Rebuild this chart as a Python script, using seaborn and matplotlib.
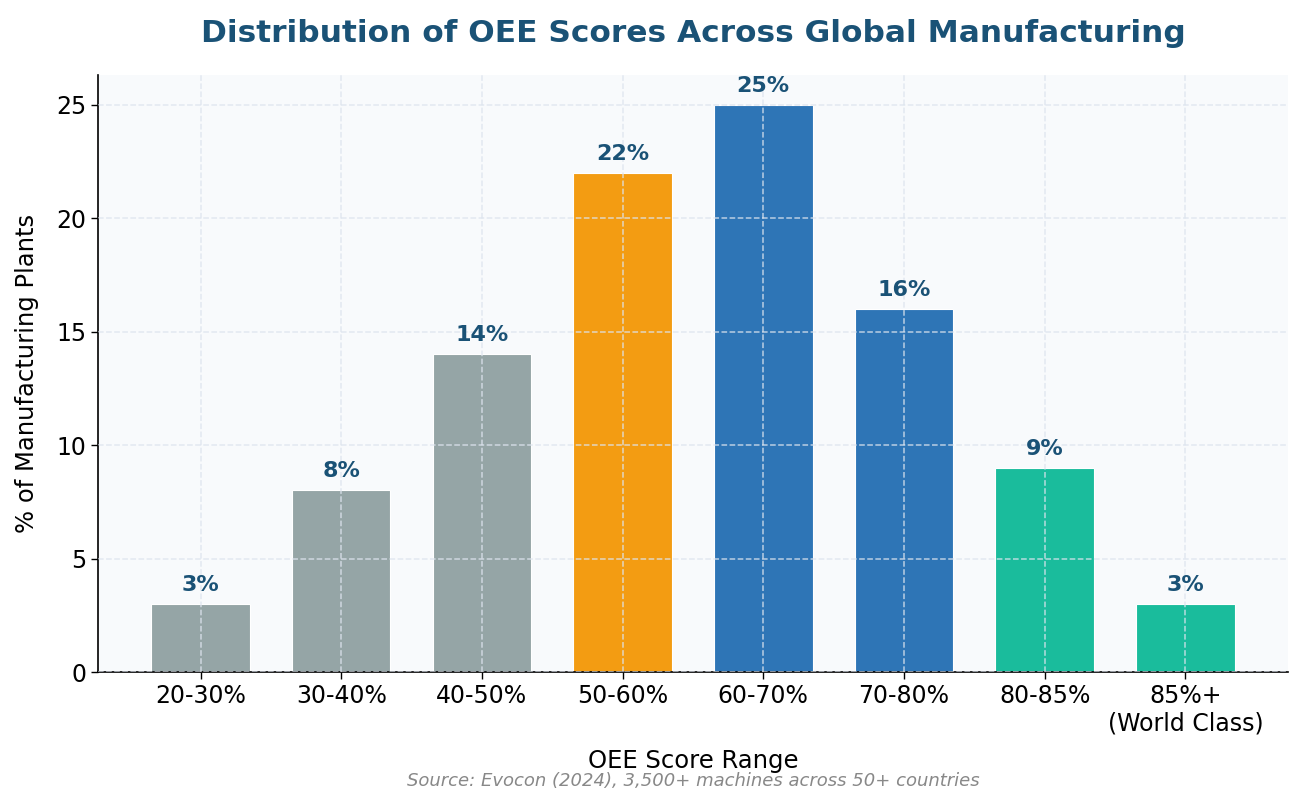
import matplotlib
matplotlib.use("Agg")
import matplotlib.pyplot as plt
import seaborn as sns
import pandas as pd

categories = ["20-30%", "30-40%", "40-50%", "50-60%", "60-70%", "70-80%", "80-85%", "85%+\n(World Class)"]
values = [3, 8, 14, 22, 25, 16, 9, 3]
bar_colors = ["#95a5a6", "#95a5a6", "#95a5a6", "#f39c12", "#2e75b6", "#2e75b6", "#1abc9c", "#1abc9c"]

df = pd.DataFrame({"range": categories, "pct": values})

sns.set_style("white")
plt.rcParams["font.family"] = ["DejaVu Sans"]

fig = plt.figure(figsize=(13.05, 8), dpi=100)
ax = fig.add_axes([0.075, 0.16, 0.912, 0.746])
ax.set_facecolor("#f8fafc")

sns.barplot(data=df, x="range", y="pct", hue="range", palette=bar_colors,
            saturation=1, width=0.7, edgecolor="white", linewidth=0.8,
            legend=False, ax=ax)

for i, v in enumerate(values):
    ax.text(i, v + 0.4, f"{v}%", ha="center", va="bottom", fontsize=16,
            fontweight="bold", color="#1a5276")

ax.set_xlim(-0.73, 7.73)
ax.set_ylim(0, 26.3)
ax.set_yticks([0, 5, 10, 15, 20, 25])
ax.grid(True, linestyle="--", color="#dde4ee", alpha=0.8, linewidth=1.1)
ax.set_axisbelow(False)
ax.tick_params(axis="both", labelsize=17, length=5, width=1, colors="black")
ax.tick_params(axis="both", bottom=True, left=True)
for s in ["top", "right"]:
    ax.spines[s].set_visible(False)
for s in ["left", "bottom"]:
    ax.spines[s].set_color("black")
    ax.spines[s].set_linewidth(1.2)

ax.set_xlabel("OEE Score Range", fontsize=17.5, labelpad=10, color="black")
ax.set_ylabel("% of Manufacturing Plants", fontsize=17.5, labelpad=12, color="black")
ax.set_title("Distribution of OEE Scores Across Global Manufacturing", fontsize=22.5,
             fontweight="bold", color="#1a5276", pad=24)
fig.text(0.531, 0.018, "Source: Evocon (2024), 3,500+ machines across 50+ countries",
         ha="center", fontsize=13, style="italic", color="#888888")

fig.savefig("out.png", dpi=100)
